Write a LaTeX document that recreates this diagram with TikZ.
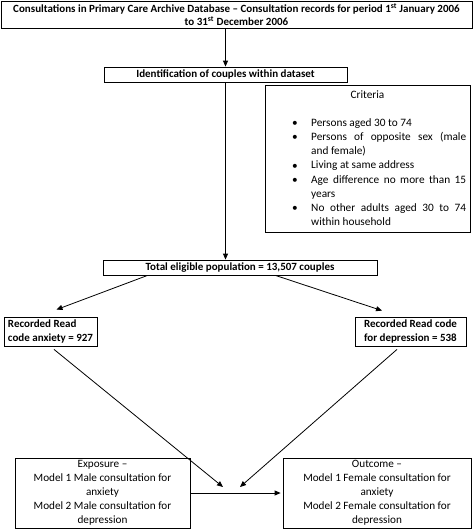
\documentclass[tikz,border=0pt]{standalone}
\usepackage{fontspec}
\setmainfont{Carlito}
\usetikzlibrary{arrows.meta}
\begin{document}
\begin{tikzpicture}[x=1pt,y=-1pt,
  font=\fontsize{11.2}{14}\selectfont,
  box/.style={draw, line width=0.8pt, inner sep=0pt, align=center},
  bbox/.style={box, font=\fontsize{11}{13.5}\selectfont\bfseries},
  item/.style={inner sep=0pt, anchor=north west, text width=155pt, align=justify,
    font=\fontsize{11.3}{14.2}\selectfont},
  arr/.style={-{Triangle[length=6pt,width=5pt]}, line width=0.8pt}]
\useasboundingbox (0,0) rectangle (473,530);
\node[bbox, minimum width=471pt, minimum height=27pt] (top) at (236.5,14.5)
  {Consultations in Primary Care Archive Database -- Consultation records for period 1\textsuperscript{st} January 2006\\to 31\textsuperscript{st} December 2006};
\node[bbox, minimum width=243pt, minimum height=15pt] (ident) at (225.5,74.5) {Identification of couples within dataset};
\node[box, minimum width=205pt, minimum height=147pt] (crit) at (367.5,158.5) {};
\node[font=\fontsize{11.3}{14}\selectfont] (crittitle) at (367.5,95) {Criteria};
\foreach \y/\t [count=\i] in {123/{Persons aged 30 to 74},
  137.2/{Persons of opposite sex (male\linebreak and female)},
  165.6/{Living at same address},
  179.8/{Age difference no more than 15 years},
  208.2/{No other adults aged 30 to 74 within household}} {
  \node[inner sep=0pt, font=\fontsize{11.3}{14}\selectfont] (b\i) at (295,\y+1) {\textbullet};
  \node[item] (c\i) at (311,\y-6.8) {\hyphenpenalty=10000\relax\exhyphenpenalty=10000\relax\strut\t};
}
\node[bbox, minimum width=274pt, minimum height=15pt] (total) at (240,267.5) {Total eligible population = 13,507 couples};
\node[bbox, minimum width=93pt, minimum height=29pt, align=left] (anx) at (50.5,331.5) {Recorded Read\\code anxiety = 927};
\node[bbox, minimum width=111pt, minimum height=29pt, align=left] (dep) at (410.5,331.5) {Recorded Read code\\for depression = 538};
\node[box, minimum width=175pt, minimum height=70pt] (exp) at (102.5,493) {Exposure --\\Model 1 Male consultation for\\anxiety\\Model 2 Male consultation for\\depression};
\node[box, minimum width=188pt, minimum height=70pt] (out) at (377,493) {Outcome --\\Model 1 Female consultation for\\anxiety\\Model 2 Female consultation for\\depression};
\coordinate (ml) at (223,487);
\coordinate (mr) at (240,487);
\draw[arr] (top.south -| ident.north) -- (ident.north);
\draw[arr] (ident.south) -- (ident.south |- total.north);
\draw[arr] ([xshift=45pt]total.south west) -- ([xshift=6pt,yshift=7pt]anx.north);
\draw[arr] ([xshift=-102pt]total.south east) -- ([xshift=-28.5pt,yshift=6pt]dep.north);
\draw[arr] ([xshift=3.5pt,yshift=-3pt]anx.south) -- (ml);
\draw[arr] ([xshift=-13.5pt,yshift=-3pt]dep.south) -- (mr);
\draw[arr] (exp.east) -- ([xshift=-2pt]out.west);
\end{tikzpicture}
\end{document}
